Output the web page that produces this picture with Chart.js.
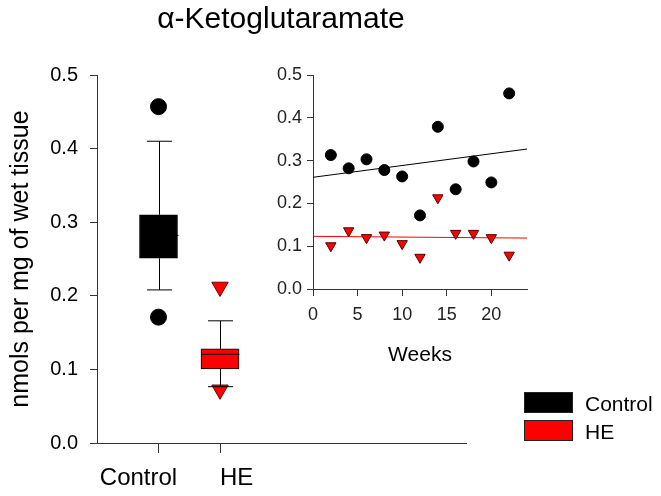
<!DOCTYPE html>
<html>
<head>
<meta charset="utf-8">
<script src="https://cdn.jsdelivr.net/npm/chart.js@4"></script>
<style>
  body { margin: 0; background: #fff; font-family: 'Liberation Sans', Arial, sans-serif; }
  #wrap { position: relative; width: 661px; height: 496px; overflow: hidden; }
  #main { position: absolute; left: 0; top: 0; }
  #inset { position: absolute; left: 250px; top: 55px; }
  #title { position: absolute; left: 0; width: 562px; top: 3px; text-align: center; font-size: 30px; line-height: 1; color: #000; }
  .leg { position: absolute; left: 524px; width: 47px; height: 19px; border: 1px solid #222; }
  .legtxt { position: absolute; left: 585px; font-size: 21px; line-height: 1; color: #000; }
</style>
</head>
<body>
<div id="wrap">
  <canvas id="main" width="661" height="496"></canvas>
  <canvas id="inset" width="300" height="320"></canvas>
  <div id="title">α-Ketoglutaramate</div>
  <div class="leg" style="top:392px;background:#000;"></div>
  <div class="legtxt" style="top:393px;">Control</div>
  <div class="leg" style="top:420px;background:#ff0000;"></div>
  <div class="legtxt" style="top:421px;">HE</div>
</div>
<script>
// box plot values
const groups = ['Control', 'HE'];
const groupPos = [1, 2];
const boxLow = [0.251, 0.1005];
const boxHigh = [0.310, 0.128];
const medians = [0.282, 0.1205];
const whiskerLow = [0.208, 0.0765];
const whiskerHigh = [0.410, 0.166];
const outliersControl = [0.457, 0.171];
const outliersHE = [0.212, 0.0723];
const mainTicks = [0, 0.1, 0.2, 0.3, 0.4, 0.5];

// inset: weekly values
const weeks = [2, 4, 6, 8, 10, 12, 14, 16, 18, 20, 22];
const controlWeekly = [0.313, 0.282, 0.303, 0.278, 0.263, 0.172, 0.379, 0.233, 0.298, 0.249, 0.457];
const heWeekly = [0.101, 0.136, 0.120, 0.126, 0.106, 0.074, 0.213, 0.130, 0.130, 0.120, 0.079];
const fitWeeks = [0, 24];
const fitControl = [0.261, 0.327];
const fitHE = [0.123, 0.119];
const weekTicks = [0, 5, 10, 15, 20];

const FONT = "'Liberation Sans', Arial, sans-serif";
const RED = '#ff0000';

Chart.defaults.font.family = FONT;
Chart.defaults.animation = false;
Chart.defaults.devicePixelRatio = 1;

// whiskers, caps and medians drawn from the arrays through the scales
const whiskerPlugin = {
  id: 'whiskers',
  afterDatasetsDraw(chart) {
    const ctx = chart.ctx;
    const xs = chart.scales.x, ys = chart.scales.y;
    ctx.save();
    ctx.strokeStyle = '#000';
    ctx.lineWidth = 1;
    groupPos.forEach((g, i) => {
      const cx = Math.round(xs.getPixelForValue(g)) + 0.5;
      const capHalf = 12.5, boxHalf = 19;
      const yLo = ys.getPixelForValue(whiskerLow[i]);
      const yHi = ys.getPixelForValue(whiskerHigh[i]);
      const yQ1 = ys.getPixelForValue(boxLow[i]);
      const yQ3 = ys.getPixelForValue(boxHigh[i]);
      const yMed = ys.getPixelForValue(medians[i]);
      ctx.beginPath();
      ctx.moveTo(cx, yQ3); ctx.lineTo(cx, yHi);
      ctx.moveTo(cx - capHalf, yHi); ctx.lineTo(cx + capHalf, yHi);
      ctx.moveTo(cx, yQ1); ctx.lineTo(cx, yLo);
      ctx.moveTo(cx - capHalf, yLo); ctx.lineTo(cx + capHalf, yLo);
      ctx.moveTo(cx - boxHalf, yMed); ctx.lineTo(cx + boxHalf, yMed);
      ctx.stroke();
    });
    ctx.restore();
  }
};

new Chart(document.getElementById('main'), {
  type: 'scatter',
  data: {
    datasets: [
      {
        type: 'scatter',
        data: outliersControl.map(v => ({ x: groupPos[0], y: v })),
        pointStyle: 'circle',
        pointRadius: 8,
        backgroundColor: '#000',
        borderColor: '#000',
        order: 0
      },
      {
        type: 'scatter',
        data: outliersHE.map(v => ({ x: groupPos[1], y: v })),
        pointStyle: 'triangle',
        pointRotation: 180,
        pointRadius: 9.5,
        backgroundColor: RED,
        borderColor: '#700',
        borderWidth: 1,
        order: 0
      },
      {
        type: 'bar',
        data: groupPos.map((g, i) => ({ x: g, y: [boxLow[i], boxHigh[i]] })),
        backgroundColor: ['#000', RED],
        borderColor: '#000',
        borderWidth: 1,
        borderSkipped: false,
        barThickness: 38,
        order: 1
      }
    ]
  },
  options: {
    responsive: false,
    layout: { padding: { left: 0, top: 75, right: 195, bottom: 0 } },
    plugins: { legend: { display: false }, tooltip: { enabled: false } },
    scales: {
      x: {
        type: 'linear',
        min: 0,
        max: 6,
        offset: false,
        afterBuildTicks: s => { s.ticks = groupPos.map(v => ({ value: v })); },
        afterFit: s => { s.height = 53; },
        grid: { offset: false, drawOnChartArea: false, drawTicks: true, tickLength: 10, color: '#333' },
        border: { display: true, color: '#333', width: 1 },
        ticks: {
          color: '#000',
          font: { size: 24 },
          padding: 11,
          maxRotation: 0,
          // the reference places the labels off the tick marks
          callback: v => v === groupPos[0] ? groups[0] + '      ' : '     ' + groups[1]
        }
      },
      y: {
        min: 0,
        max: 0.5,
        afterBuildTicks: s => { s.ticks = mainTicks.map(v => ({ value: v })); },
        afterFit: s => { s.width = 97; },
        grid: { drawOnChartArea: false, drawTicks: true, tickLength: 7, color: '#333' },
        border: { display: true, color: '#333', width: 1 },
        ticks: { color: '#000', font: { size: 20 }, padding: 12, callback: v => v.toFixed(1) },
        title: {
          display: true,
          text: 'nmols per mg of wet tissue',
          color: '#000',
          font: { size: 25 },
          padding: { top: 6, bottom: 0 }
        }
      }
    }
  },
  plugins: [whiskerPlugin]
});

new Chart(document.getElementById('inset'), {
  type: 'scatter',
  data: {
    datasets: [
      {
        data: weeks.map((w, i) => ({ x: w, y: controlWeekly[i] })),
        pointStyle: 'circle',
        pointRadius: 5.5,
        backgroundColor: '#000',
        borderColor: '#000'
      },
      {
        data: weeks.map((w, i) => ({ x: w, y: heWeekly[i] })),
        pointStyle: 'triangle',
        pointRotation: 180,
        pointRadius: 6,
        backgroundColor: RED,
        borderColor: '#500',
        borderWidth: 1
      },
      {
        type: 'line',
        data: fitWeeks.map((w, i) => ({ x: w, y: fitControl[i] })),
        borderColor: '#000',
        borderWidth: 1,
        pointRadius: 0
      },
      {
        type: 'line',
        data: fitWeeks.map((w, i) => ({ x: w, y: fitHE[i] })),
        borderColor: RED,
        borderWidth: 1,
        pointRadius: 0
      }
    ]
  },
  options: {
    responsive: false,
    layout: { padding: { left: 0, top: 20, right: 23, bottom: 0 } },
    plugins: { legend: { display: false }, tooltip: { enabled: false } },
    scales: {
      x: {
        type: 'linear',
        min: 0,
        max: 24,
        afterBuildTicks: s => { s.ticks = weekTicks.map(v => ({ value: v })); },
        afterFit: s => { s.height = 86; },
        grid: { drawOnChartArea: false, drawTicks: true, tickLength: 7, color: '#333' },
        border: { display: true, color: '#333', width: 1 },
        ticks: { color: '#222', font: { size: 18 }, padding: 8, maxRotation: 0 },
        title: {
          display: true,
          text: 'Weeks',
          color: '#000',
          font: { size: 21 },
          padding: { top: 0, bottom: 7 }
        }
      },
      y: {
        min: 0,
        max: 0.5,
        afterBuildTicks: s => { s.ticks = mainTicks.map(v => ({ value: v })); },
        afterFit: s => { s.width = 63; },
        grid: { drawOnChartArea: false, drawTicks: true, tickLength: 6, color: '#333' },
        border: { display: true, color: '#333', width: 1 },
        ticks: { color: '#222', font: { size: 18 }, padding: 5, callback: v => v.toFixed(1) }
      }
    }
  }
});
</script>
</body>
</html>
